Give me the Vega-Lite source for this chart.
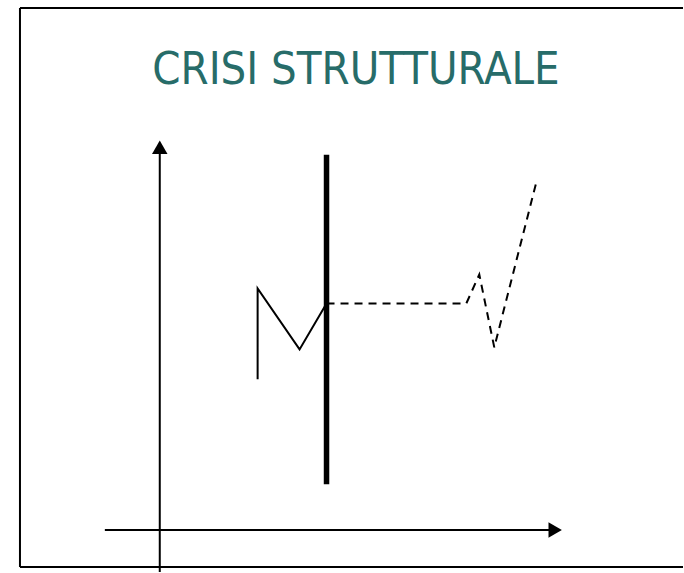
{
  "$schema": "https://vega.github.io/schema/vega-lite/v6.json",
  "width": 684,
  "height": 573,
  "padding": 0,
  "autosize": {"type": "fit", "contains": "padding"},
  "config": {"view": {"stroke": null}},
  "datasets": {
    "frame": [
      {"part": "top", "x": -14, "x2": 52.4, "y": 52.3, "y2": 52.3},
      {"part": "left", "x": -14, "x2": -14, "y": 52.3, "y2": -3.7},
      {"part": "bottom", "x": -14, "x2": 52.4, "y": -3.7, "y2": -3.7}
    ],
    "axes": [
      {"axis": "vertical", "x": 0, "x2": 0, "y": -4.2, "y2": 37.7},
      {"axis": "horizontal", "x": -5.5, "x2": 39.1, "y": 0, "y2": 0}
    ],
    "heads": [
      {"axis": "vertical", "x": 0, "y": 38.35, "shape": "triangle-up"},
      {"axis": "horizontal", "x": 39.6, "y": 0, "shape": "triangle-right"}
    ],
    "wall": [
      {"x": 16.7, "y": 37.6, "y2": 4.6}
    ],
    "before": [
      {"step": 1, "x": 9.8, "y": 15.1},
      {"step": 2, "x": 9.8, "y": 24.2},
      {"step": 3, "x": 14.0, "y": 18.1},
      {"step": 4, "x": 16.7, "y": 22.7}
    ],
    "after": [
      {"step": 1, "x": 16.7, "y": 22.7},
      {"step": 2, "x": 30.7, "y": 22.7},
      {"step": 3, "x": 32.0, "y": 25.6},
      {"step": 4, "x": 33.5, "y": 18.3},
      {"step": 5, "x": 37.7, "y": 34.8}
    ],
    "title": [
      {"label": "CRISI STRUTTURALE", "x": 19.65, "y": 44.7}
    ]
  },
  "layer": [
    {
      "data": {"name": "frame"},
      "mark": {"type": "rule", "color": "#000000", "strokeWidth": 2},
      "encoding": {
        "x": {"field": "x", "type": "quantitative", "scale": {"domain": [-16, 52.4], "nice": false, "zero": false}, "axis": null},
        "x2": {"field": "x2"},
        "y": {"field": "y", "type": "quantitative", "scale": {"domain": [-4.2, 53.1], "nice": false, "zero": false}, "axis": null},
        "y2": {"field": "y2"}
      }
    },
    {
      "data": {"name": "axes"},
      "mark": {"type": "rule", "color": "#000000", "strokeWidth": 2},
      "encoding": {
        "x": {"field": "x", "type": "quantitative"},
        "x2": {"field": "x2"},
        "y": {"field": "y", "type": "quantitative"},
        "y2": {"field": "y2"}
      }
    },
    {
      "data": {"name": "heads"},
      "mark": {"type": "point", "filled": true, "color": "#000000", "size": 240, "opacity": 1},
      "encoding": {
        "x": {"field": "x", "type": "quantitative"},
        "y": {"field": "y", "type": "quantitative"},
        "shape": {"field": "shape", "type": "nominal", "scale": null, "legend": null}
      }
    },
    {
      "data": {"name": "wall"},
      "mark": {"type": "rule", "color": "#000000", "strokeWidth": 5.5},
      "encoding": {
        "x": {"field": "x", "type": "quantitative"},
        "y": {"field": "y", "type": "quantitative"},
        "y2": {"field": "y2"}
      }
    },
    {
      "data": {"name": "before"},
      "mark": {"type": "line", "color": "#000000", "strokeWidth": 2},
      "encoding": {
        "x": {"field": "x", "type": "quantitative"},
        "y": {"field": "y", "type": "quantitative"},
        "order": {"field": "step", "type": "quantitative"}
      }
    },
    {
      "data": {"name": "after"},
      "mark": {"type": "line", "color": "#000000", "strokeWidth": 2, "strokeDash": [8, 6]},
      "encoding": {
        "x": {"field": "x", "type": "quantitative"},
        "y": {"field": "y", "type": "quantitative"},
        "order": {"field": "step", "type": "quantitative"}
      }
    },
    {
      "data": {"name": "title"},
      "mark": {"type": "text", "font": "DejaVu Sans Condensed, Roboto, sans-serif", "fontSize": 45, "color": "#276c69", "align": "center", "baseline": "alphabetic"},
      "encoding": {
        "x": {"field": "x", "type": "quantitative"},
        "y": {"field": "y", "type": "quantitative"},
        "text": {"field": "label"}
      }
    }
  ]
}
